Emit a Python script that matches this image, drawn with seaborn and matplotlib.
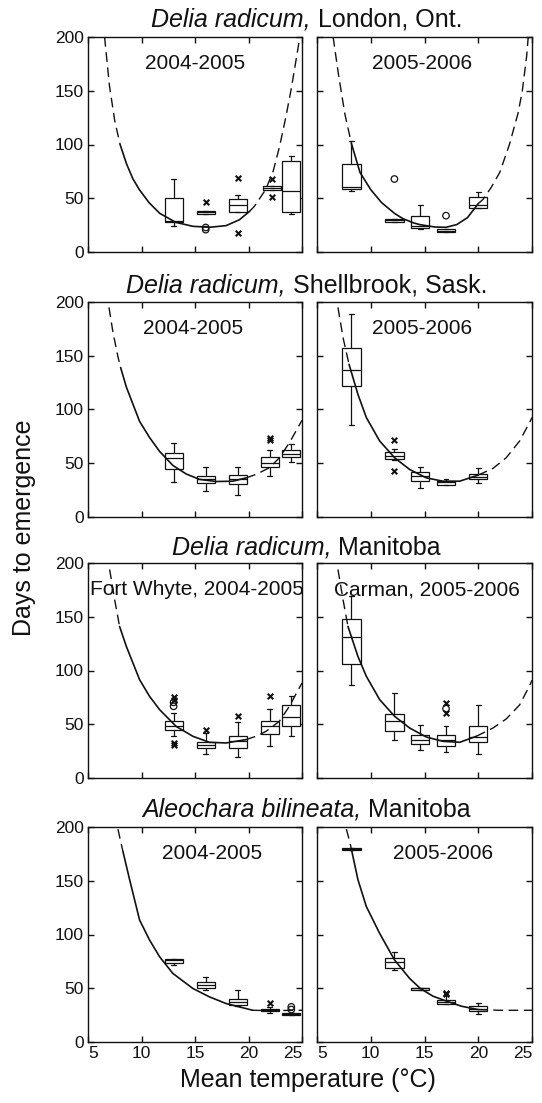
import numpy as np
import pandas as pd
import matplotlib
matplotlib.use('Agg')
import matplotlib.pyplot as plt
import seaborn as sns

# box positions (mean temperature, deg C)
temps_left = [13.0, 16.0, 19.0, 22.0, 24.0]
temps_london_left = [13.0, 16.0, 19.0, 22.2, 24.0]
temps_right = [8.2, 12.2, 14.6, 17.0, 20.0]

# each box: [low whisker, q1, median, q3, high whisker]  (days)
london_0405 = [[24, 27.6, 29, 50.2, 68.2], [35.3, 35.3, 37.2, 38.4, 38.4],
               [37, 37.2, 43.4, 49.6, 53.3], [58, 58, 59.5, 61, 61],
               [35.7, 36.9, 56.4, 85, 89.6]]
london_0506 = [[57, 58.6, 60.2, 82.2, 103], [27.9, 27.9, 29.5, 31, 31],
               [21.4, 22.3, 23.9, 33.8, 44], [18.3, 18.3, 19.8, 21.4, 21.4],
               [40.9, 40.9, 43.4, 50.9, 55.8]]
shell_0405 = [[32.4, 44.2, 55.1, 59.2, 69.2], [24.6, 31.2, 34.9, 38, 46.4],
              [20.9, 30.8, 35.8, 39.3, 46.4], [38.6, 46.4, 50.5, 55.8, 62.3],
              [51.1, 56, 58.9, 62, 67.6]]
shell_0506 = [[86, 121.5, 137, 157, 189], [52.6, 53.6, 56.7, 60.4, 63.6],
              [27.1, 33.3, 38, 41.7, 46.4], [29.6, 30.2, 32.4, 33.3, 34.9],
              [31.2, 34.9, 37.4, 39.6, 45.2]]
manit_0405 = [[39.4, 44.3, 48.7, 52.7, 60.5], [22.3, 27.9, 31, 33.2, 41.9],
              [19.2, 27.9, 34.1, 38.8, 51.8], [29.5, 41.2, 48.7, 53.3, 64.2],
              [38.8, 48.1, 56.4, 68.2, 76]]
manit_0506 = [[86.2, 106.4, 131, 148, 169.6], [35.7, 43.4, 52.7, 59.5, 79.4],
              [26.4, 31.6, 35.7, 40.3, 49], [23.9, 30.1, 35, 39.7, 48],
              [22.3, 33.5, 38.1, 48, 67.6]]
aleo_0405 = [[71.5, 73.7, 76.2, 77.1, 77.1], [48.8, 49.8, 52.9, 55.4, 60.7],
             [33.3, 34.2, 37.3, 40.4, 48.8], [27, 28.6, 29.9, 30.8, 32.7],
             [24.9, 25.5, 26.4, 27.4, 27.4]]
aleo_0506 = [[178.8, 178.8, 179.8, 180.8, 180.8], [67, 69.1, 74.6, 77.8, 84],
             [48.8, 48.8, 49.8, 50.6, 50.6], [35.1, 35.8, 37.3, 38.9, 43.5],
             [26.4, 28.6, 30.5, 33.6, 36.4]]

# outside values: (temp, days) for 'x' and 'o' markers
london_0405_x = [(16, 46.2), (19, 68.8), (19, 17.7), (22.2, 67.9), (22.2, 50.9)]
london_0405_o = [(16, 22.8), (16, 20.8)]
london_0506_x = []
london_0506_o = [(12.2, 67.9), (17, 33.8)]
shell_0405_x = [(22, 73.2), (22, 72.0)]
shell_0405_o = []
shell_0506_x = [(12.2, 71.3), (12.2, 43.0)]
shell_0506_o = []
manit_0405_x = [(13, 75), (13, 72.9), (13, 32.6), (13, 30.4), (16, 45), (19, 57.4), (22, 76)]
manit_0405_o = [(13, 70.4), (13, 66.7)]
manit_0506_x = [(17, 69.5), (17, 60.8)]
manit_0506_o = [(17, 64.5)]
aleo_0405_x = [(22, 36.4)]
aleo_0405_o = [(24, 32.7), (24, 30.2)]
aleo_0506_x = [(17, 46), (17, 44.5)]
aleo_0506_o = []

# fitted curves; solid inside (start, end), dashed outside
london_0405_cx = [6.55, 7.0, 7.5, 8.0, 8.6, 9.2, 9.8, 10.7, 11.7, 13.2, 14.8, 16.35, 17.9, 19.15, 20.1,
                  20.55, 21.6, 22.3, 22.9, 23.5, 24.0, 24.5, 24.8]
london_0405_cy = [200, 155, 122, 100, 82, 68, 58, 46, 36, 27.6, 23.9, 23, 24.5, 30, 37.8,
                  42.5, 58, 75, 98, 126, 152, 182, 200]
london_0405_solid = (8.0, 20.1)
london_0506_cx = [6.5, 7.0, 7.6, 8.2, 9.0, 10, 11, 12.2, 13, 14, 14.6, 16, 17, 18, 19, 20,
                  20.45, 21.2, 22, 22.9, 23.7, 24.1, 24.5, 24.65]
london_0506_cy = [200, 165, 128, 101, 74, 58, 46, 36, 31, 27, 25.4, 23.2, 23, 25.5, 32, 45,
                  49, 60, 74, 100, 129, 150, 182, 200]
london_0506_solid = (8.2, 20.0)
shell_0405_cx = [6.96, 7.33, 7.8, 8.05, 8.58, 9.82, 10.75, 11.69, 12.93, 14.18, 15.42, 16.98, 18.53,
                 19.78, 20.7, 21.95, 22.88, 23.82, 24.44, 25.0]
shell_0405_cy = [195, 172, 149, 139, 121, 89, 74, 61, 48, 40, 35, 33, 33.3,
                 36.4, 39.6, 45.8, 55, 69, 80, 90]
shell_0405_solid = (8.05, 19.78)
shell_0506_cx = [6.95, 7.42, 7.98, 8.81, 9.59, 10.83, 12.22, 13.62, 15.17, 16.72, 18.27, 19.98,
                 21.37, 22.6, 23.85, 24.78, 25.0]
shell_0506_cy = [195, 167, 142, 114, 92.5, 70.7, 55.1, 44.2, 36.4, 33.3, 33.3, 38.9,
                 45.2, 55.1, 70.7, 88, 92.5]
shell_0506_solid = (7.98, 19.98)
manit_0405_cx = [7.02, 7.49, 7.95, 8.58, 9.82, 10.75, 11.69, 13.24, 14.8, 16.35, 17.9, 19.76,
                 20.7, 21.64, 22.88, 23.82, 25.0]
manit_0405_cy = [194, 166, 141, 122.5, 91.5, 76, 63.6, 48, 38.8, 33.2, 32.6, 35.7,
                 38.8, 43.4, 52.7, 66.7, 88.4]
manit_0405_solid = (7.95, 19.76)
manit_0506_cx = [6.95, 7.42, 7.88, 8.81, 9.59, 10.83, 12.22, 13.62, 15.17, 16.72, 18.27, 19.82,
                 21.37, 22.6, 23.85, 24.78, 25.0]
manit_0506_cy = [194, 166, 141, 113, 94.6, 72.9, 57.4, 46.5, 38.1, 34.1, 33.2, 38.8,
                 46.5, 54.9, 68, 86, 91]
manit_0506_solid = (7.88, 19.82)
aleo_0405_cx = [7.8, 8.02, 8.27, 8.89, 9.82, 10.75, 11.69, 12.93, 14.8, 16.35, 17.9, 20.4, 22.0, 25.0]
aleo_0405_cy = [198, 188, 177, 151, 113.5, 94.9, 79.3, 63.8, 49.8, 42, 35.8, 29.5, 29.2, 29.5]
aleo_0405_solid = (8.27, 20.4)
aleo_0506_cx = [7.73, 8.04, 8.19, 8.81, 9.59, 10.83, 12.22, 13.62, 14.61, 15.79, 16.97, 18.43,
                19.98, 21.99, 25.0]
aleo_0506_cy = [198, 186.6, 179.8, 150.9, 126, 101, 76.2, 59.1, 49.8, 42.6, 38.3, 33.3,
                30.2, 29.5, 29.5]
aleo_0506_solid = (8.19, 19.98)

title_species = ['Delia radicum,', 'Delia radicum,', 'Delia radicum,', 'Aleochara bilineata,']
title_place = ['London, Ont.', 'Shellbrook, Sask.', 'Manitoba', 'Manitoba']
panel_labels = [['2004-2005', '2005-2006'], ['2004-2005', '2005-2006'],
                ['Fort Whyte, 2004-2005', 'Carman, 2005-2006'], ['2004-2005', '2005-2006']]
label_xpos = [[0.50, 0.49], [0.49, 0.49], [0.51, 0.513], [0.58, 0.588]]

panels = [
    [(temps_london_left, london_0405, london_0405_x, london_0405_o, london_0405_cx, london_0405_cy, london_0405_solid),
     (temps_right, london_0506, london_0506_x, london_0506_o, london_0506_cx, london_0506_cy, london_0506_solid)],
    [(temps_left, shell_0405, shell_0405_x, shell_0405_o, shell_0405_cx, shell_0405_cy, shell_0405_solid),
     (temps_right, shell_0506, shell_0506_x, shell_0506_o, shell_0506_cx, shell_0506_cy, shell_0506_solid)],
    [(temps_left, manit_0405, manit_0405_x, manit_0405_o, manit_0405_cx, manit_0405_cy, manit_0405_solid),
     (temps_right, manit_0506, manit_0506_x, manit_0506_o, manit_0506_cx, manit_0506_cy, manit_0506_solid)],
    [(temps_left, aleo_0405, aleo_0405_x, aleo_0405_o, aleo_0405_cx, aleo_0405_cy, aleo_0405_solid),
     (temps_right, aleo_0506, aleo_0506_x, aleo_0506_o, aleo_0506_cx, aleo_0506_cy, aleo_0506_solid)],
]

sns.set_theme(style='ticks')
plt.rcParams['font.family'] = ['Liberation Sans', 'DejaVu Sans']
plt.rcParams['text.color'] = 'black'

BOX_W = 1.7  # deg C
ink = '#111111'


def draw_panel(ax, temps, boxes, out_x, out_o, cx, cy, solid):
    df = pd.DataFrame({'temp': np.repeat(temps, 5), 'days': np.concatenate(boxes)})
    w = BOX_W / np.diff(sorted(temps)).min()
    sns.boxplot(data=df, x='temp', y='days', native_scale=True, orient='x',
                whis=(0, 100), width=w, color='white', linecolor=ink, linewidth=0.9,
                fliersize=0, capwidths=0.45, ax=ax)
    cx = np.array(cx)
    cy = np.array(cy)
    inside = (cx >= solid[0]) & (cx <= solid[1])
    left = cx <= solid[0]
    right = cx >= solid[1]
    sns.lineplot(x=cx[inside], y=cy[inside], sort=False, estimator=None, color=ink,
                 lw=1.2, ax=ax, zorder=4)
    for m in (left, right):
        if m.sum() > 1:
            sns.lineplot(x=cx[m], y=cy[m], sort=False, estimator=None, color=ink,
                         lw=1.0, linestyle=(0, (7, 4)), ax=ax, zorder=4)
    if out_x:
        ox, oy = zip(*out_x)
        sns.scatterplot(x=list(ox), y=list(oy), marker='x', s=16, color=ink,
                        linewidth=1.5, ax=ax, zorder=5)
    if out_o:
        ox, oy = zip(*out_o)
        sns.scatterplot(x=list(ox), y=list(oy), marker='o', s=22, color=ink,
                        facecolor='none', edgecolor=ink, linewidth=0.9, ax=ax, zorder=5)


fig = plt.figure(figsize=(5.42, 11.03), dpi=100)
W, H = 542, 1103
col_x = [88, 317]
col_w = [214, 215]
row_top = [37, 302, 563, 827]
title_base = [26, 292, 555, 817]
renderer = fig.canvas.get_renderer()

for r in range(4):
    for c in range(2):
        ax = fig.add_axes([col_x[c] / W, 1 - (row_top[r] + 215) / H, col_w[c] / W, 215 / H])
        temps, boxes, ox, oo, cx, cy, solid = panels[r][c]
        draw_panel(ax, temps, boxes, ox, oo, cx, cy, solid)
        ax.set_xlim(5, 25)
        ax.set_ylim(0, 200)
        ax.set_xticks([5, 10, 15, 20, 25])
        ax.set_yticks([0, 50, 100, 150, 200])
        ax.set(xlabel='', ylabel='')
        ax.tick_params(direction='in', top=True, right=True, length=4, width=1,
                       labelsize=12.5, colors=ink, pad=3)
        if r < 3:
            ax.set_xticklabels([])
        else:
            xl = ax.get_xticklabels()
            xl[0].set_ha('left')
            xl[-1].set_ha('right')
        if c == 1:
            ax.set_yticklabels([])
        for s in ax.spines.values():
            s.set_linewidth(1.0)
            s.set_color(ink)
        ax.text(label_xpos[r][c], 0.85, panel_labels[r][c], transform=ax.transAxes,
                ha='center', va='baseline', fontsize=15, color=ink)

    # row title: italic species + upright place, centred as one line
    yb = 1 - title_base[r] / H
    t1 = fig.text(0, yb, title_species[r], fontstyle='italic', fontsize=18,
                  ha='left', va='baseline', color=ink)
    t2 = fig.text(0, yb, title_place[r], fontsize=18, ha='left', va='baseline', color=ink)
    probe_a = fig.text(0, 0, 'a a', fontsize=18)
    probe_b = fig.text(0, 0, 'aa', fontsize=18)
    space = probe_a.get_window_extent(renderer).width - probe_b.get_window_extent(renderer).width
    probe_a.remove()
    probe_b.remove()
    w1 = t1.get_window_extent(renderer).width
    w2 = t2.get_window_extent(renderer).width
    x0 = 306.5 - (w1 + space + w2) / 2
    t1.set_x(x0 / W)
    t2.set_x((x0 + w1 + space) / W)

fig.text(24 / W, 1 - 528 / H, 'Days to emergence', rotation=90, ha='center', va='center',
         fontsize=18, color=ink)
fig.text(307.5 / W, 1 - 1087 / H, 'Mean temperature (°C)', ha='center', va='baseline',
         fontsize=18, color=ink)

fig.savefig('out.png', dpi=100)
plt.close(fig)
